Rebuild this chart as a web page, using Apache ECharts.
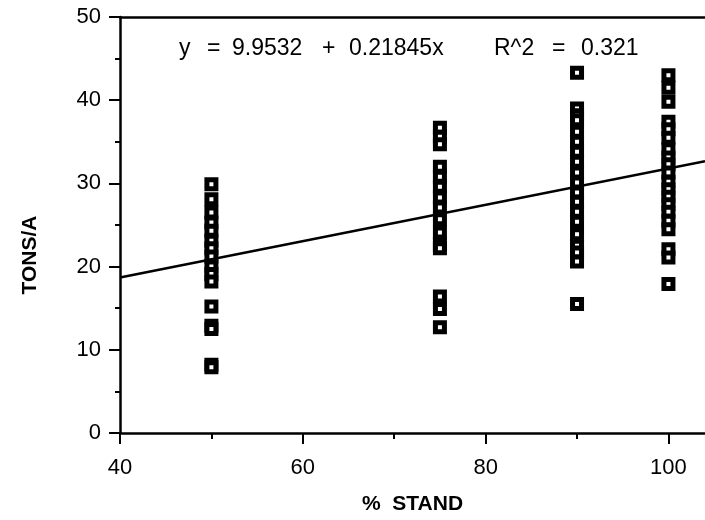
<!DOCTYPE html>
<html>
<head>
<meta charset="utf-8">
<script src="https://cdn.jsdelivr.net/npm/echarts@6/dist/echarts.min.js"></script>
<style>
html,body{margin:0;padding:0;background:#fff;}
#chart{width:705px;height:520px;}
</style>
</head>
<body>
<div id="chart"></div>
<script>
// ---- data ----
const standPct = [50, 75, 90, 100];
const tons50 = [29.9, 28.1, 26.5, 25.3, 24.3, 23.1, 22.2, 21.2, 20.0, 19.1, 18.2, 15.2, 12.9, 12.5, 8.2, 7.9];
const tons75 = [36.7, 35.6, 34.7, 32.0, 30.8, 29.6, 28.3, 27.1, 25.7, 24.1, 22.7, 22.2, 16.4, 14.9, 12.7];
const tons90 = [43.3, 39.0, 38.2, 37.6, 36.2, 35.0, 33.8, 32.6, 31.3, 30.1, 28.9, 27.8, 26.6, 25.4, 23.9, 22.5, 21.7, 20.6, 15.5];
const tons100 = [43.0, 41.5, 39.8, 37.4, 36.5, 35.5, 34.1, 33.1, 32.3, 31.3, 30.2, 29.3, 28.4, 27.5, 26.6, 25.5, 24.5, 22.1, 21.1, 17.9];
const intercept = 9.9532;
const slope = 0.21845;
const rSquared = 0.321;
const xMin = 40, xMax = 104;
const yMin = 0, yMax = 50;
const xTickLabels = [40, 60, 80, 100];
const xMinorTicks = [50, 70, 90];

const groups = [tons50, tons75, tons90, tons100];
const points = [];
groups.forEach((arr, i) => arr.forEach(v => points.push([standPct[i], v])));
const fitLine = [[xMin, intercept + slope * xMin], [xMax, intercept + slope * xMax]];

const font = 'Liberation Sans, Arial, Helvetica, sans-serif';
const eqFont = '23px ' + font;
const eqY = 49;
function eqText(x, t) {
  return {type: 'text', x: x, y: eqY, style: {text: t, font: eqFont, fill: '#000', verticalAlign: 'middle', align: 'left'}};
}
const chart = echarts.init(document.getElementById('chart'));
chart.setOption({
  animation: false,
  backgroundColor: '#fff',
  grid: {left: 120, right: 0, top: 17, bottom: 86, containLabel: false},
  graphic: [
    eqText(179, 'y'),
    eqText(207, '='),
    eqText(232, String(intercept)),
    eqText(322, '+'),
    eqText(349, slope + 'x'),
    eqText(494, 'R^2'),
    eqText(552, '='),
    eqText(581, String(rSquared)),
    {type: 'text', x: 30, y: 255, rotation: Math.PI / 2,
     style: {text: 'TONS/A', font: 'bold 21px ' + font, fill: '#000', align: 'center', verticalAlign: 'middle'}}
  ],
  xAxis: [{
    type: 'value', min: xMin, max: xMax,
    name: '%  STAND', nameLocation: 'middle', nameGap: 61,
    nameTextStyle: {fontFamily: font, fontSize: 21, fontWeight: 'bold', color: '#000'},
    axisLine: {show: true, onZero: false, lineStyle: {color: '#000', width: 2.5}},
    axisTick: {show: true, length: 11, customValues: xTickLabels, lineStyle: {color: '#000', width: 2}},
    axisLabel: {margin: 24, fontFamily: font, fontSize: 22, color: '#000', customValues: xTickLabels},
    splitLine: {show: false}
  }, {
    type: 'value', position: 'bottom', min: xMin, max: xMax,
    axisLine: {show: false},
    axisTick: {show: true, length: 6, customValues: xMinorTicks, lineStyle: {color: '#000', width: 2}},
    axisLabel: {show: false}, splitLine: {show: false}
  }, {
    type: 'value', position: 'top', min: xMin, max: xMax,
    axisLine: {show: true, onZero: false, lineStyle: {color: '#000', width: 2.5}},
    axisTick: {show: false}, axisLabel: {show: false}, splitLine: {show: false}
  }],
  yAxis: {
    type: 'value', min: yMin, max: yMax, interval: 10,
    axisLine: {show: true, onZero: false, lineStyle: {color: '#000', width: 2.5}},
    axisTick: {show: true, length: 11, lineStyle: {color: '#000', width: 2}},
    minorTick: {show: true, splitNumber: 2, length: 5, lineStyle: {color: '#000', width: 2}},
    axisLabel: {margin: 19, fontFamily: font, fontSize: 22, color: '#000'},
    splitLine: {show: false}
  },
  series: [{
    type: 'line', data: fitLine, symbol: 'none', silent: true,
    lineStyle: {color: '#000', width: 2.5}, z: 3
  }, {
    type: 'scatter', data: points, symbol: 'rect', symbolSize: 9,
    itemStyle: {color: '#fff', borderColor: '#000', borderWidth: 5, opacity: 1}, z: 2
  }]
});
</script>
</body>
</html>
